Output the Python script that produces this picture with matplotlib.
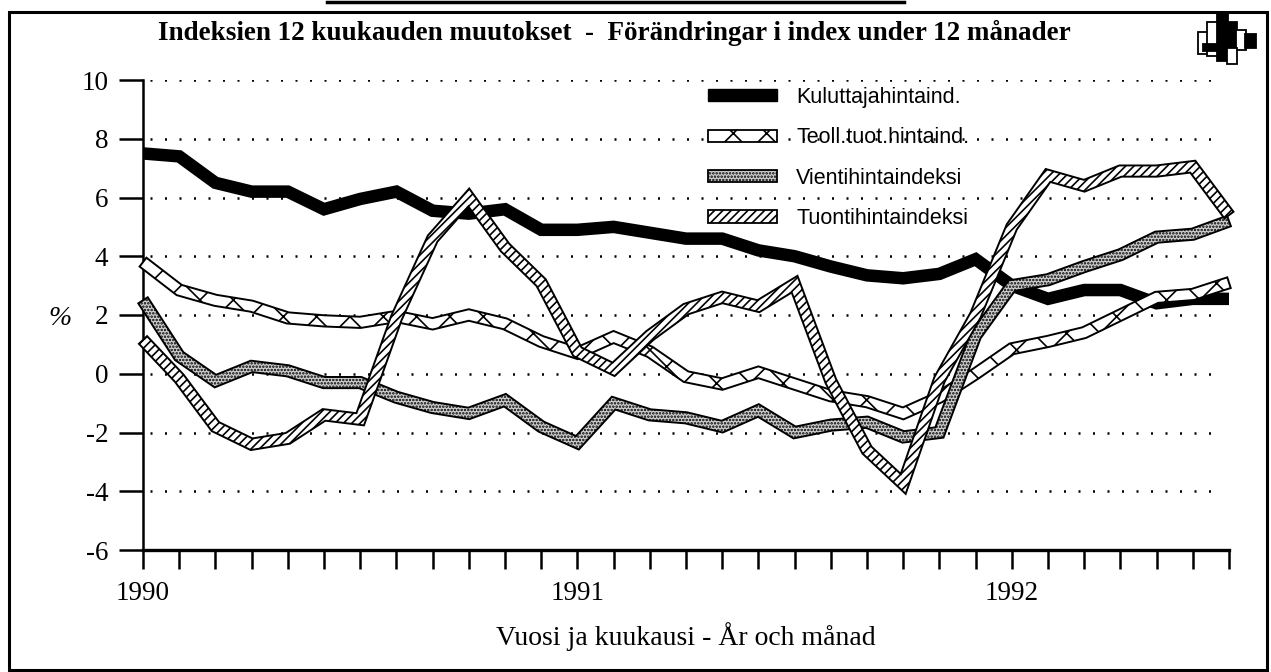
import numpy as np
import matplotlib.pyplot as plt
from matplotlib.patches import Polygon, Patch, Rectangle

# monthly 12-month changes, Jan 1990 - Jul 1992 (%)
months = np.arange(31)
kuluttaja = [7.5, 7.4, 6.5, 6.2, 6.2, 5.6, 5.95, 6.2, 5.55, 5.45, 5.6, 4.9, 4.9, 5.0, 4.8, 4.6,
             4.6, 4.2, 4.0, 3.65, 3.35, 3.25, 3.4, 3.9, 3.0, 2.55, 2.85, 2.85, 2.4, 2.55, 2.55]
teoll = [3.8, 2.85, 2.5, 2.3, 1.9, 1.8, 1.75, 1.95, 1.7, 2.0, 1.7, 1.1, 0.7, 1.25, 0.75, -0.1,
         -0.35, 0.05, -0.35, -0.75, -0.95, -1.35, -0.8, 0.0, 0.85, 1.1, 1.4, 2.0, 2.6, 2.7, 3.1]
vienti = [2.5, 0.6, -0.25, 0.25, 0.1, -0.3, -0.3, -0.8, -1.15, -1.35, -0.9, -1.8, -2.35, -1.0, -1.4, -1.5,
          -1.8, -1.25, -2.0, -1.75, -1.65, -2.15, -2.0, 1.3, 3.0, 3.2, 3.65, 4.05, 4.65, 4.75, 5.2]
tuonti = [1.15, -0.15, -1.8, -2.4, -2.2, -1.4, -1.55, 1.9, 4.6, 6.0, 4.3, 3.1, 0.75, 0.15, 1.3, 2.2,
          2.6, 2.3, 3.05, -0.25, -2.6, -3.75, -0.2, 2.0, 5.0, 6.75, 6.4, 6.9, 6.9, 7.05, 5.4]
names = ["Kuluttajahintaind.", "Teoll.tuot.hintaind.", "Vientihintaindeksi", "Tuontihintaindeksi"]
year_pos = [0, 12, 24]
year_labels = ["1990", "1991", "1992"]
yticks = [-6, -4, -2, 0, 2, 4, 6, 8, 10]

plt.rcParams['hatch.linewidth'] = 1.2
serif = 'Liberation Serif'
sans = 'Liberation Sans'

W, H = 1271, 672
fig = plt.figure(figsize=(W / 100, H / 100), dpi=100)
ax = fig.add_axes([143 / W, 1 - 550 / H, (1229 - 143) / W, (550 - 80) / H])
ax.set_xlim(0, 30)
ax.set_ylim(-6, 10)


def band(x, y, half):
    # outline of a thick line, built in pixel space and mapped back to data
    p = ax.transData.transform(np.column_stack([x, y]))
    d = np.diff(p, axis=0)
    d /= np.hypot(d[:, 0], d[:, 1])[:, None]
    n = np.column_stack([-d[:, 1], d[:, 0]])
    m = np.empty_like(p)
    m[0], m[-1] = n[0], n[-1]
    mid = n[:-1] + n[1:]
    mid /= np.hypot(mid[:, 0], mid[:, 1])[:, None]
    m[1:-1] = mid
    s = np.full(len(p), half)
    s[1:-1] = np.minimum(half / np.einsum('ij,ij->i', mid, n[1:]), 3 * half)
    poly = np.vstack([p + m * s[:, None], (p - m * s[:, None])[::-1]])
    return ax.transData.inverted().transform(poly)


for v in yticks[1:]:
    ax.axhline(v, xmax=0.992, color='black', lw=1.8, ls=(3, (0.8, 5.0)), zorder=1)

ax.plot(months, kuluttaja, color='black', lw=9, solid_joinstyle='miter', zorder=3)
styles = [(teoll, 'white', 'x'), (vienti, '#cfcfcf', '.....'), (tuonti, 'white', '////')]
for i, (vals, fc, ht) in enumerate(styles):
    ax.add_patch(Polygon(band(months, vals, 5.6), closed=True, facecolor=fc, edgecolor='black',
                         lw=1.4, hatch=ht, zorder=4 + i, clip_on=False, joinstyle='miter'))

handles = [Patch(facecolor='black', edgecolor='black')]
handles += [Patch(facecolor=fc, edgecolor='black', hatch=ht, lw=1.3) for _, fc, ht in styles]
ax.legend(handles, names, loc='upper left', bbox_to_anchor=(708 / W, 1 - 87 / H),
          bbox_transform=fig.transFigure, frameon=False, borderpad=0, borderaxespad=0,
          handlelength=3.2, handleheight=0.5, handletextpad=0.9, labelspacing=0.9,
          prop={'family': sans, 'size': 15.5})

for s in ['top', 'right']:
    ax.spines[s].set_visible(False)
ax.spines['left'].set_linewidth(1.8)
ax.spines['bottom'].set_linewidth(2.4)
ax.set_yticks(yticks)
ax.set_yticklabels([str(v) for v in yticks], family=serif, fontsize=19.5)
ax.set_xticks(months)
ax.set_xticklabels([year_labels[year_pos.index(m)] if m in year_pos else '' for m in months],
                   family=serif, fontsize=19.5)
ax.tick_params(axis='y', length=17, width=1.8, pad=8)
ax.tick_params(axis='x', length=14, width=1.8, pad=8)
ax.set_xlabel("Vuosi ja kuukausi - År och månad", family=serif, fontsize=20, labelpad=12)
ax.set_ylabel("%", family=serif, fontsize=20, style='italic', rotation=0)
ax.yaxis.set_label_coords(-0.076, 0.465)

fig.text(614 / W, 1 - 33 / H, "Indeksien 12 kuukauden muutokset  -  Förändringar i index under 12 månader",
         family=serif, weight='bold', fontsize=19.5, ha='center', va='center')

# frame and logo in pixel coordinates
ov = fig.add_axes([0, 0, 1, 1], zorder=-1)
ov.set_xlim(0, W)
ov.set_ylim(H, 0)
ov.axis('off')
ov.add_patch(Rectangle((9, 12), 1258, 658, fill=False, lw=2.2, edgecolor='black'))
ov.plot([327, 904], [1.5, 1.5], color='black', lw=2.5)
logo = [(1198, 32, 10, 22, 'white'), (1207, 22, 11, 34, 'white'), (1217, 13, 11, 48, 'black'),
        (1227, 22, 10, 28, 'black'), (1236, 30, 10, 20, 'white'), (1245, 34, 11, 14, 'black'),
        (1227, 48, 10, 16, 'white'), (1203, 44, 22, 7, 'black')]
for x0, y0, w, h, c in logo:
    ov.add_patch(Rectangle((x0, y0), w, h, facecolor=c, edgecolor='black', lw=1.3))

fig.savefig("out.png", dpi=100)
